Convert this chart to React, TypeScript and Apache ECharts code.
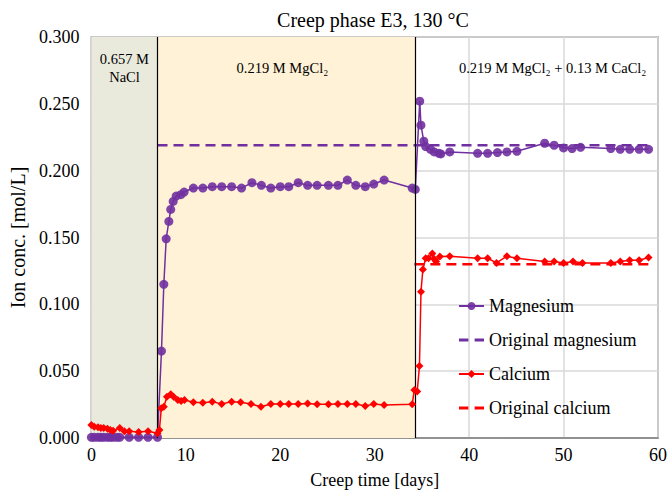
import React, { useEffect, useRef } from "react";
import * as echarts from "echarts";

const FONT = "Liberation Serif";

const mgDays = [0, 0.3, 0.7, 1.0, 1.3, 1.7, 2.0, 2.3, 2.7, 3.0, 4.0, 5.0, 6.0, 7.0,
  7.42, 7.67, 7.92, 8.2, 8.4, 8.66, 8.98, 9.47, 9.82, 10.8, 11.8, 12.8, 13.8, 14.85, 15.9,
  17.0, 18.0, 19.0, 20.0, 20.9, 21.9, 22.9, 23.9, 25.1, 26.1, 27.1, 28.0, 29.0, 29.9, 31.0,
  33.97, 34.3, 34.77, 34.9, 35.2, 35.4, 35.9, 36.3, 36.8, 37.0, 37.95, 40.9, 41.96, 43.0,
  44.0, 45.06, 48.0, 49.0, 50.0, 50.9, 51.8, 55.0, 56.0, 57.0, 58.0, 59.0];
const mgValues = [0.0005, 0.0005, 0.0005, 0.0005, 0.0005, 0.0005, 0.0005, 0.0005, 0.0005, 0.0005,
  0.0005, 0.0005, 0.0005, 0.0005,
  0.065, 0.115, 0.149, 0.162, 0.171, 0.177, 0.181, 0.182, 0.184, 0.187, 0.187, 0.188, 0.188,
  0.188, 0.187, 0.191, 0.189, 0.187, 0.188, 0.188, 0.191, 0.189, 0.189, 0.189, 0.189, 0.193,
  0.189, 0.188, 0.19, 0.193,
  0.187, 0.186, 0.252, 0.234, 0.222, 0.218, 0.216, 0.214, 0.213, 0.2125, 0.214, 0.213, 0.213,
  0.2135, 0.214, 0.2145, 0.2205, 0.219, 0.217, 0.2165, 0.2175, 0.2165, 0.216, 0.216, 0.216, 0.216];

const caDays = [0, 0.3, 0.7, 1.0, 1.3, 1.7, 2.0, 2.3, 3.0, 3.5, 4.0, 5.0, 6.0, 7.0,
  7.2, 7.4, 7.67, 8.0, 8.4, 8.7, 9.15, 9.5, 9.85, 10.8, 11.8, 12.8, 13.8, 14.85, 15.8, 16.9,
  17.95, 19.0, 20.0, 20.9, 21.9, 22.9, 23.9, 25.1, 26.1, 27.1, 28.0, 29.0, 29.9, 31.0, 33.97,
  34.2, 34.5, 34.74, 34.9, 35.1, 35.4, 35.7, 36.1, 36.3, 36.5, 36.9, 37.95, 40.9, 41.96, 42.9,
  44.0, 45.06, 48.0, 49.0, 50.0, 51.0, 52.0, 55.0, 56.0, 57.0, 58.0, 59.0];
const caValues = [0.0097, 0.0085, 0.008, 0.0075, 0.0075, 0.007, 0.006, 0.0055, 0.0075, 0.005,
  0.005, 0.0045, 0.005, 0.0035,
  0.006, 0.0222, 0.0234, 0.0309, 0.0327, 0.0309, 0.0284, 0.0277, 0.0284, 0.0267, 0.0264,
  0.0272, 0.0254, 0.0272, 0.0267, 0.0254, 0.0234, 0.0254, 0.0254, 0.0254, 0.0254, 0.0259,
  0.0252, 0.0252, 0.0254, 0.0254, 0.0254, 0.0239, 0.0254, 0.0247, 0.0252,
  0.036, 0.0347, 0.0539, 0.1095, 0.126, 0.1345, 0.1345, 0.138, 0.134, 0.132, 0.1357, 0.136,
  0.1345, 0.1345, 0.131, 0.136, 0.1345, 0.132, 0.132, 0.131, 0.132, 0.131, 0.131, 0.132,
  0.133, 0.133, 0.135];

const origMgDays = [7.0, 59.3];
const origMgValues = [0.219, 0.219];
const origCaDays = [34.2, 59.3];
const origCaValues = [0.13, 0.13];

const phaseBounds = [0, 7.0, 34.3, 60];
const phaseLabels = ["0.657 M\nNaCl", "0.219 M MgCl₂", "0.219 M MgCl₂ + 0.13 M CaCl₂"];
const phaseColors = ["#E9EADC", "#FFF2D6", "rgba(255,255,255,0)"];

const xTicks = [0, 10, 20, 30, 40, 50, 60];

const zip = (a: number[], b: number[]) => a.map((v, i) => [v, b[i]]);

const DASH_ICON = "path://M0,0h9v3H0zM15,0h9v3H15z";
const LABEL_SHIFT = [[0, 0], [-4, 0], [16, 0]];

export default function App() {
  const ref = useRef<HTMLDivElement>(null);
  useEffect(() => {
    document.body.style.margin = "0";
    if (!ref.current) return;
    const chart = echarts.init(ref.current, null, { renderer: "svg" });
    chart.setOption({
      animation: false,
      backgroundColor: "#fff",
      textStyle: { fontFamily: FONT },
      title: {
        text: "Creep phase E3, 130 °C",
        left: 368,
        textAlign: "center",
        top: 5,
        textStyle: { fontFamily: FONT, fontSize: 20, fontWeight: "normal", color: "#000" },
      },
      grid: {
        left: 90, right: 12, top: 37, bottom: 56,
        show: true, borderColor: "#7f7f7f", borderWidth: 1.5, backgroundColor: "transparent",
      },
      legend: {
        orient: "vertical",
        left: 453,
        top: 292,
        itemWidth: 25,
        itemHeight: 10,
        itemGap: 16,
        textStyle: { fontFamily: FONT, fontSize: 18, color: "#000" },
        data: [
          { name: "Magnesium" },
          { name: "Original magnesium", icon: DASH_ICON, itemStyle: { color: "#7030A0" } },
          { name: "Calcium" },
          { name: "Original calcium", icon: DASH_ICON, itemStyle: { color: "#FF0000" } },
        ],
      },
      xAxis: {
        type: "value",
        min: xTicks[0],
        max: xTicks[xTicks.length - 1],
        interval: 10,
        name: "Creep time [days]",
        nameLocation: "middle",
        nameGap: 33,
        nameTextStyle: { fontFamily: FONT, fontSize: 18, color: "#000" },
        axisLine: { show: true, lineStyle: { color: "#7f7f7f", width: 1.5 } },
        axisTick: { show: false },
        axisLabel: { fontFamily: FONT, fontSize: 18, color: "#000", margin: 8 },
        splitLine: { show: true, lineStyle: { color: "#d9d9d9", width: 1.5 } },
      },
      yAxis: {
        type: "value",
        min: 0,
        max: 0.3,
        interval: 0.05,
        name: "Ion conc. [mol/L]",
        nameLocation: "middle",
        nameGap: 62,
        nameTextStyle: { fontFamily: FONT, fontSize: 20, color: "#000" },
        axisLine: { show: false },
        axisTick: { show: false },
        axisLabel: {
          fontFamily: FONT, fontSize: 18, color: "#000", margin: 12,
          formatter: (v: number) => v.toFixed(3),
        },
        splitLine: { show: true, lineStyle: { color: "#d9d9d9", width: 1.5 } },
      },
      series: [
        {
          name: "phases",
          type: "line",
          data: [],
          silent: true,
          z: 0,
          markArea: {
            silent: true,
            data: phaseLabels.map((lab, i) => [
              {
                xAxis: phaseBounds[i],
                itemStyle: { color: phaseColors[i] },
                label: {
                  show: true,
                  position: "insideTop",
                  distance: i === 0 ? 13 : 22,
                  offset: LABEL_SHIFT[i],
                  formatter: lab,
                  fontFamily: FONT,
                  fontSize: 14.5,
                  lineHeight: 18,
                  color: "#000",
                  align: "center",
                },
              },
              { xAxis: phaseBounds[i + 1] },
            ]),
          },
          markLine: {
            silent: true,
            symbol: "none",
            label: { show: false },
            lineStyle: { color: "#000", type: "solid", width: 1.2 },
            data: [{ xAxis: phaseBounds[1] }, { xAxis: phaseBounds[2] }],
          },
        },
        {
          name: "Original magnesium",
          type: "line",
          data: zip(origMgDays, origMgValues),
          showSymbol: false,
          symbol: "none",
          lineStyle: { color: "#7030A0", width: 2.5, type: [10, 6] },
          itemStyle: { color: "#7030A0" },
          z: 3,
        },
        {
          name: "Original calcium",
          type: "line",
          data: zip(origCaDays, origCaValues),
          showSymbol: false,
          symbol: "none",
          lineStyle: { color: "#FF0000", width: 2.5, type: [10, 6] },
          itemStyle: { color: "#FF0000" },
          z: 3,
        },
        {
          name: "Magnesium",
          type: "line",
          data: zip(mgDays, mgValues),
          symbol: "circle",
          symbolSize: 9,
          lineStyle: { color: "#7030A0", width: 1.5 },
          itemStyle: { color: "#7030A0", opacity: 0.9 },
          z: 4,
        },
        {
          name: "Calcium",
          type: "line",
          data: zip(caDays, caValues),
          symbol: "diamond",
          symbolSize: 8,
          lineStyle: { color: "#FF0000", width: 1.5 },
          itemStyle: { color: "#FF0000" },
          z: 5,
        },
      ],
    });
    return () => chart.dispose();
  }, []);
  return <div ref={ref} style={{ width: 670, height: 494 }} />;
}
